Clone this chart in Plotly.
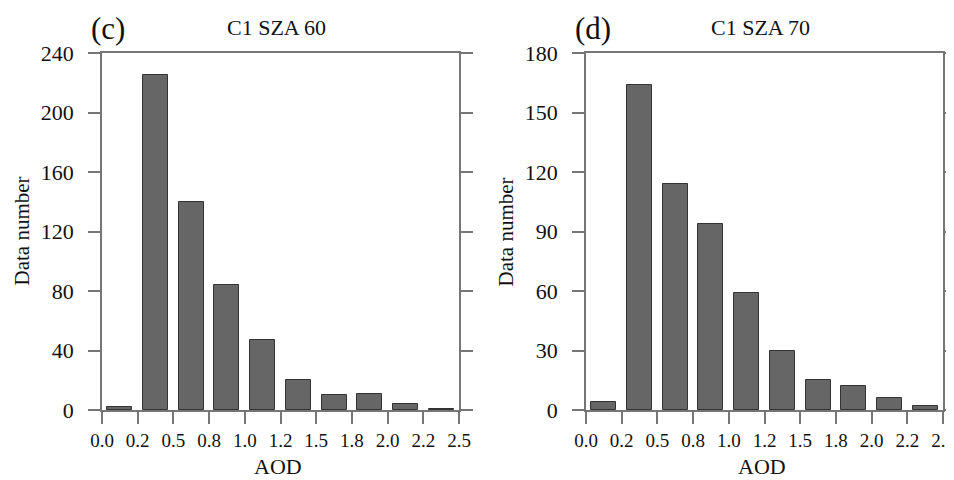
import plotly.graph_objects as go

bin_edges = [0.0, 0.25, 0.5, 0.75, 1.0, 1.25, 1.5, 1.75, 2.0, 2.25, 2.5]
tick_labels = ["0.0", "0.2", "0.5", "0.8", "1.0", "1.2", "1.5", "1.8", "2.0", "2.2", "2.5"]
counts_sza60 = [2, 225, 140, 84, 47, 20, 10, 11, 4, 1]
counts_sza70 = [4, 164, 114, 94, 59, 30, 15, 12, 6, 2]
titles = ["C1 SZA 60", "C1 SZA 70"]
panel_labels = ["(c)", "(d)"]
y_ticks_60 = [0, 40, 80, 120, 160, 200, 240]
y_ticks_70 = [0, 30, 60, 90, 120, 150, 180]

centers = [(bin_edges[i] + bin_edges[i + 1]) / 2 for i in range(len(bin_edges) - 1)]
bin_w = bin_edges[1] - bin_edges[0]

FONT = "Liberation Serif"
OFF = 8  # page body margin
W, H = 954 - OFF, 480 - OFF
bar_color = "#666666"
line_color = "#767676"


def px(x):
    return (x - OFF) / W


def py(y):
    return 1 - (y - OFF) / H


fig = go.Figure()
fig.add_trace(go.Bar(x=centers, y=counts_sza60, width=bin_w * 0.7,
                     marker=dict(color=bar_color, line=dict(color="#333333", width=1)),
                     xaxis="x", yaxis="y", showlegend=False))
fig.add_trace(go.Bar(x=centers, y=counts_sza70, width=bin_w * 0.7,
                     marker=dict(color=bar_color, line=dict(color="#333333", width=1)),
                     xaxis="x2", yaxis="y2", showlegend=False))

dom_x1 = [px(102), px(459)]
dom_x2 = [px(586), px(943)]
dom_y = [py(410), py(53)]

xcommon = dict(range=[bin_edges[0], bin_edges[-1]], tickvals=bin_edges, ticktext=tick_labels,
               ticks="outside", ticklen=12, tickwidth=1.5, tickcolor=line_color,
               showline=True, linecolor=line_color, linewidth=1.5, mirror=True,
               showgrid=False, zeroline=False, ticklabelstandoff=0, automargin=False,
               ticklabeloverflow="allow",
               tickfont=dict(family=FONT, size=19, color="#111"))
ycommon = dict(ticks="outside", ticklen=12, tickwidth=1.5, tickcolor=line_color,
               showline=True, linecolor=line_color, linewidth=1.5, mirror="ticks",
               showgrid=False, zeroline=False, ticklabelstandoff=10, automargin=False,
               ticklabeloverflow="allow",
               tickfont=dict(family=FONT, size=22, color="#111"))

fig.update_layout(
    width=W, height=H, margin=dict(l=0, r=0, t=0, b=0, pad=0, autoexpand=False),
    paper_bgcolor="white", plot_bgcolor="white", bargap=0,
    xaxis=dict(domain=dom_x1, anchor="y", **xcommon),
    xaxis2=dict(domain=dom_x2, anchor="y2", **xcommon),
    yaxis=dict(domain=dom_y, anchor="x", range=[0, 240], tickvals=y_ticks_60, **ycommon),
    yaxis2=dict(domain=dom_y, anchor="x2", range=[0, 180], tickvals=y_ticks_70, **ycommon),
)

anns = []
for dx, t, pl in [(dom_x1, titles[0], panel_labels[0]), (dom_x2, titles[1], panel_labels[1])]:
    cx = (dx[0] + dx[1]) / 2
    left_px = dx[0] * W + OFF
    anns.append(dict(text=t, x=cx - 0.004, y=py(27), xref="paper", yref="paper", showarrow=False,
                     xanchor="center", yanchor="middle", font=dict(family=FONT, size=22, color="#111")))
    anns.append(dict(text=pl, x=px(left_px - 13), y=py(29), xref="paper", yref="paper", showarrow=False,
                     xanchor="left", yanchor="middle", font=dict(family=FONT, size=31, color="#111")))
    anns.append(dict(text="AOD", x=cx - 0.003, y=py(466), xref="paper", yref="paper", showarrow=False,
                     xanchor="center", yanchor="middle", font=dict(family=FONT, size=22, color="#111")))
    anns.append(dict(text="Data number", x=px(left_px - 81), y=(dom_y[0] + dom_y[1]) / 2, xref="paper",
                     yref="paper", showarrow=False, textangle=-90, xanchor="center", yanchor="middle",
                     font=dict(family=FONT, size=21, color="#111")))
fig.update_layout(annotations=anns)

fig.write_html("out.html")
